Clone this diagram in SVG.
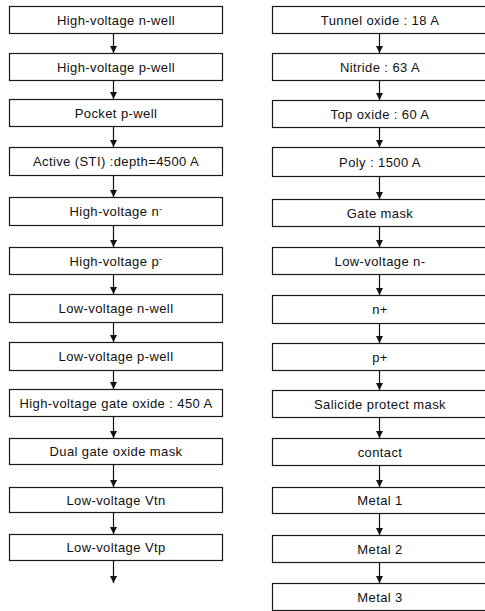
<svg xmlns="http://www.w3.org/2000/svg" width="485" height="611" viewBox="0 0 485 611">
<style>
.box{fill:#fff;stroke:#1a1a1a;stroke-width:1.2}
.lbl{font-family:"Liberation Sans",Arial,sans-serif;font-size:13px;text-anchor:middle;fill:#111;letter-spacing:0.4px}
.sup{font-size:9px}
.con{fill:none;stroke:#111;stroke-width:1.2;marker-end:url(#arr)}
</style>
<defs>
<marker id="arr" markerUnits="userSpaceOnUse" markerWidth="8" markerHeight="8" refX="7" refY="3.5" orient="auto">
<path d="M0,0 L7,3.5 L0,7 Z" fill="#111"/>
</marker>
</defs>
<rect width="485" height="611" fill="#fff"/>
<g id="nodes-left">
<g id="L1"><rect class="box" x="9.5" y="6.5" width="213" height="27"/><text class="lbl" x="116" y="24.5">High-voltage n-well</text></g>
<g id="L2"><rect class="box" x="9.5" y="53.5" width="213" height="27"/><text class="lbl" x="116" y="71.5">High-voltage p-well</text></g>
<g id="L3"><rect class="box" x="9.5" y="99.5" width="213" height="27"/><text class="lbl" x="116" y="117.5">Pocket p-well</text></g>
<g id="L4"><rect class="box" x="9.5" y="147.5" width="213" height="28"/><text class="lbl" x="116" y="166">Active (STI) :depth=4500 A</text></g>
<g id="L5"><rect class="box" x="9.5" y="197.5" width="213" height="28"/><text class="lbl" x="116" y="216">High-voltage n<tspan class="sup" dy="-4">-</tspan></text></g>
<g id="L6"><rect class="box" x="9.5" y="247.5" width="213" height="27"/><text class="lbl" x="116" y="265.5">High-voltage p<tspan class="sup" dy="-4">-</tspan></text></g>
<g id="L7"><rect class="box" x="9.5" y="294.5" width="213" height="28"/><text class="lbl" x="116" y="313">Low-voltage n-well</text></g>
<g id="L8"><rect class="box" x="9.5" y="342.5" width="213" height="28"/><text class="lbl" x="116" y="361">Low-voltage p-well</text></g>
<g id="L9"><rect class="box" x="9.5" y="389.5" width="213" height="27"/><text class="lbl" x="116" y="407.5">High-voltage gate oxide : 450 A</text></g>
<g id="L10"><rect class="box" x="9.5" y="438.5" width="213" height="26"/><text class="lbl" x="116" y="456">Dual gate oxide mask</text></g>
<g id="L11"><rect class="box" x="9.5" y="487.5" width="213" height="25"/><text class="lbl" x="116" y="504.5">Low-voltage Vtn</text></g>
<g id="L12"><rect class="box" x="9.5" y="534.5" width="213" height="26"/><text class="lbl" x="116" y="552">Low-voltage Vtp</text></g>
</g>
<g id="nodes-right">
<g id="R1"><rect class="box" x="272.5" y="6.5" width="215" height="27"/><text class="lbl" x="380" y="24.5">Tunnel oxide : 18 A</text></g>
<g id="R2"><rect class="box" x="272.5" y="53.5" width="215" height="27"/><text class="lbl" x="380" y="71.5">Nitride : 63 A</text></g>
<g id="R3"><rect class="box" x="272.5" y="100.5" width="215" height="27"/><text class="lbl" x="380" y="118.5">Top oxide : 60 A</text></g>
<g id="R4"><rect class="box" x="272.5" y="147.5" width="215" height="29"/><text class="lbl" x="380" y="167">Poly : 1500 A</text></g>
<g id="R5"><rect class="box" x="272.5" y="199.5" width="215" height="27"/><text class="lbl" x="380" y="217.5">Gate mask</text></g>
<g id="R6"><rect class="box" x="272.5" y="247.5" width="215" height="27"/><text class="lbl" x="380" y="265.5">Low-voltage n-</text></g>
<g id="R7"><rect class="box" x="272.5" y="295.5" width="215" height="28"/><text class="lbl" x="380" y="314">n+</text></g>
<g id="R8"><rect class="box" x="272.5" y="343.5" width="215" height="27"/><text class="lbl" x="380" y="361.5">p+</text></g>
<g id="R9"><rect class="box" x="272.5" y="390.5" width="215" height="27"/><text class="lbl" x="380" y="408.5">Salicide protect mask</text></g>
<g id="R10"><rect class="box" x="272.5" y="438.5" width="215" height="27"/><text class="lbl" x="380" y="456.5">contact</text></g>
<g id="R11"><rect class="box" x="272.5" y="487.5" width="215" height="26"/><text class="lbl" x="380" y="505">Metal 1</text></g>
<g id="R12"><rect class="box" x="272.5" y="535.5" width="215" height="27"/><text class="lbl" x="380" y="553.5">Metal 2</text></g>
<g id="R13"><rect class="box" x="272.5" y="583.5" width="215" height="27"/><text class="lbl" x="380" y="601.5">Metal 3</text></g>
</g>
<g id="connectors">
<line class="con" x1="113.5" y1="34" x2="113.5" y2="53"/>
<line class="con" x1="113.5" y1="81" x2="113.5" y2="99"/>
<line class="con" x1="113.5" y1="127" x2="113.5" y2="147"/>
<line class="con" x1="113.5" y1="176" x2="113.5" y2="197"/>
<line class="con" x1="113.5" y1="226" x2="113.5" y2="247"/>
<line class="con" x1="113.5" y1="275" x2="113.5" y2="294"/>
<line class="con" x1="113.5" y1="323" x2="113.5" y2="342"/>
<line class="con" x1="113.5" y1="371" x2="113.5" y2="389"/>
<line class="con" x1="113.5" y1="417" x2="113.5" y2="438"/>
<line class="con" x1="113.5" y1="465" x2="113.5" y2="487"/>
<line class="con" x1="113.5" y1="513" x2="113.5" y2="534"/>
<line class="con" x1="113.5" y1="561" x2="113.5" y2="583"/>
<line class="con" x1="379.5" y1="34" x2="379.5" y2="53"/>
<line class="con" x1="379.5" y1="81" x2="379.5" y2="100"/>
<line class="con" x1="379.5" y1="128" x2="379.5" y2="147"/>
<line class="con" x1="379.5" y1="177" x2="379.5" y2="199"/>
<line class="con" x1="379.5" y1="227" x2="379.5" y2="247"/>
<line class="con" x1="379.5" y1="275" x2="379.5" y2="295"/>
<line class="con" x1="379.5" y1="324" x2="379.5" y2="343"/>
<line class="con" x1="379.5" y1="371" x2="379.5" y2="390"/>
<line class="con" x1="379.5" y1="418" x2="379.5" y2="438"/>
<line class="con" x1="379.5" y1="466" x2="379.5" y2="487"/>
<line class="con" x1="379.5" y1="514" x2="379.5" y2="535"/>
<line class="con" x1="379.5" y1="563" x2="379.5" y2="583"/>
</g>
</svg>
